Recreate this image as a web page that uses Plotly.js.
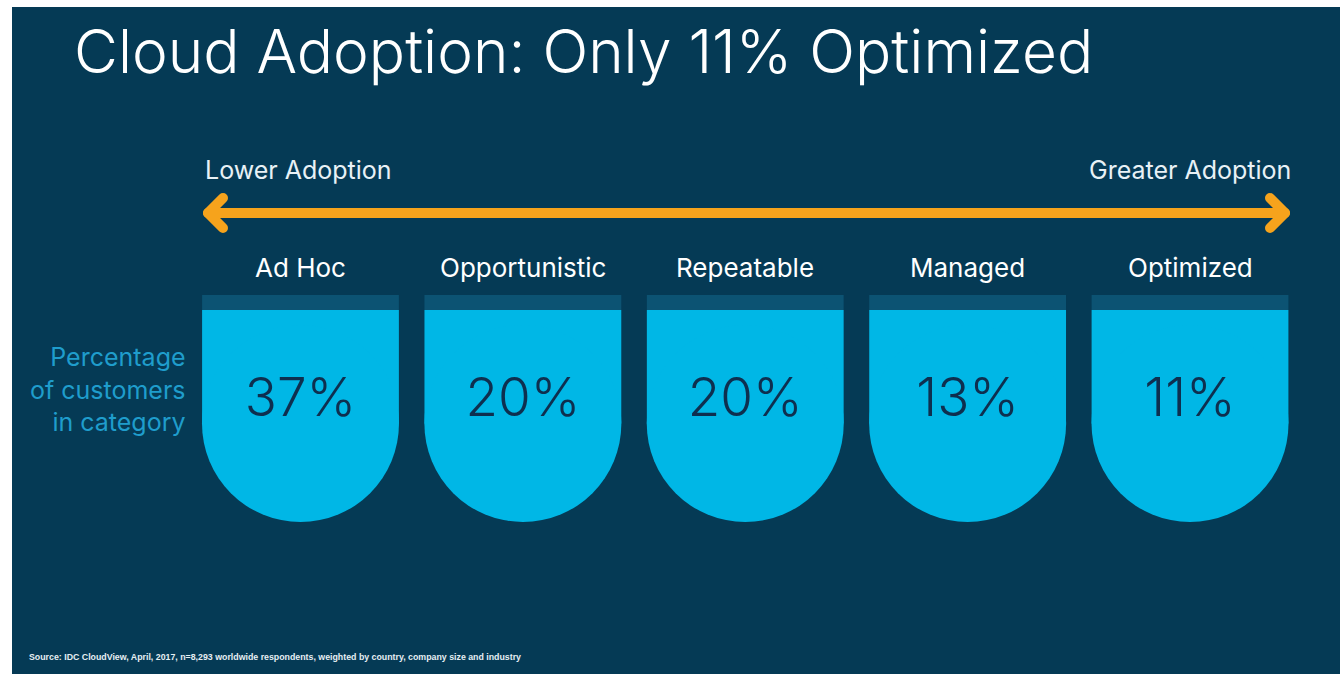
<!DOCTYPE html>
<html>
<head>
<meta charset="utf-8">
<script src="https://cdn.plot.ly/plotly-3.0.1.min.js"></script>
<style>
  html, body { margin: 0; padding: 0; background: #ffffff; }
  #chart { width: 1340px; height: 674px; }
  .shapelayer path { stroke-linecap: round; stroke-linejoin: round; }
  text { font-variant-ligatures: none; }
</style>
</head>
<body>
<div id="chart"></div>
<script>
// ---- data ----
const categories = ["Ad Hoc", "Opportunistic", "Repeatable", "Managed", "Optimized"];
const percentages = [37, 20, 20, 13, 11];
const titleText = "Cloud Adoption: Only 11% Optimized";
const lowLabel = "Lower Adoption";
const highLabel = "Greater Adoption";
const rowLabel = "Percentage<br>of customers<br>in category";
const sourceText = "Source: IDC CloudView, April, 2017, n=8,293 worldwide respondents, weighted by country, company size and industry";

// ---- styling ----
const W = 1340, H = 674;
const px = v => v / W;          // pixel x -> paper
const py = v => 1 - v / H;      // pixel y -> paper
const BG = "#053a55";
const STRIP = "#0c5373";
const CYAN = "#00b7e6";
const ORANGE = "#f6a31c";
const FONT = "Inter, 'Liberation Sans', Arial, sans-serif";

// badge geometry (y axis: 0 = badge bottom, 1 = badge top)
const stripTop = 1, stripBottom = 0.934, circleCenter = 0.434, textY = 0.525;
const badgeWidth = 0.885;
const circleDiameter = 197;

const traces = [
  {
    type: "bar", x: categories, y: categories.map(() => stripTop - stripBottom),
    base: categories.map(() => stripBottom), width: badgeWidth,
    marker: { color: STRIP, line: { width: 0 } }, hoverinfo: "skip", showlegend: false
  },
  {
    type: "bar", x: categories, y: categories.map(() => stripBottom - circleCenter),
    base: categories.map(() => circleCenter), width: badgeWidth,
    marker: { color: CYAN, line: { width: 0 } }, hoverinfo: "skip", showlegend: false
  },
  {
    type: "scatter", mode: "markers", x: categories, y: categories.map(() => circleCenter),
    marker: { size: circleDiameter, color: CYAN, line: { width: 0 }, symbol: "circle" },
    cliponaxis: false, hoverinfo: "skip", showlegend: false
  },
  {
    type: "scatter", mode: "text", x: categories, y: categories.map(() => textY),
    text: percentages.map(v => v + "%"), textposition: "middle center",
    textfont: { family: FONT, size: 53, color: "#0e2f4f", weight: 300 },
    cliponaxis: false, hoverinfo: "skip", showlegend: false
  }
];

const annotations = [
  { text: lowLabel, xref: "paper", yref: "paper", x: px(203), y: py(170), xanchor: "left", yanchor: "middle",
    showarrow: false, font: { family: FONT, size: 25, color: "#e8f1f6" } },
  { text: highLabel, xref: "paper", yref: "paper", x: px(1293), y: py(170), xanchor: "right", yanchor: "middle",
    showarrow: false, font: { family: FONT, size: 25, color: "#e8f1f6" } },
  { text: rowLabel, xref: "paper", yref: "paper", x: px(188), y: py(389), xanchor: "right", yanchor: "middle",
    align: "right", showarrow: false, font: { family: FONT, size: 25, color: "#1f9dcc" } },
  { text: sourceText, xref: "paper", yref: "paper", x: px(27), y: py(657), xanchor: "left", yanchor: "middle",
    showarrow: false, font: { family: "'Liberation Sans', Arial, sans-serif", size: 8.8, color: "#e6eef3", weight: 700 } }
].concat(categories.map(c => ({
  text: c, xref: "x", yref: "paper", x: c, y: py(267), xanchor: "center", yanchor: "middle",
  showarrow: false, font: { family: FONT, size: 26, color: "#ffffff" }
})));

const shapes = [
  { type: "rect", xref: "paper", yref: "paper", x0: px(12), x1: 1, y0: 0, y1: py(7),
    fillcolor: BG, line: { width: 0 }, layer: "below" },
  { type: "line", xref: "paper", yref: "paper", x0: px(208), x1: px(1285), y0: py(213), y1: py(213),
    line: { color: ORANGE, width: 10 } },
  { type: "path", xref: "paper", yref: "paper",
    path: `M ${px(223)} ${py(198)} L ${px(208)} ${py(213)} L ${px(223)} ${py(228)}`,
    line: { color: ORANGE, width: 10 } },
  { type: "path", xref: "paper", yref: "paper",
    path: `M ${px(1270)} ${py(198)} L ${px(1285)} ${py(213)} L ${px(1270)} ${py(228)}`,
    line: { color: ORANGE, width: 10 } }
];

const layout = {
  width: W, height: H,
  margin: { l: 0, r: 0, t: 0, b: 0 },
  paper_bgcolor: "#ffffff",
  plot_bgcolor: "rgba(0,0,0,0)",
  barmode: "overlay",
  showlegend: false,
  title: {
    text: titleText, x: px(74), xanchor: "left", xref: "paper",
    y: py(52), yanchor: "middle", yref: "paper",
    font: { family: FONT, size: 60.3, color: "#ffffff", weight: 300 }
  },
  xaxis: {
    type: "category", categoryorder: "array", categoryarray: categories,
    domain: [px(189.3), px(1301.2)], range: [-0.5, 4.5],
    showgrid: false, zeroline: false, showticklabels: false, showline: false, ticks: "", fixedrange: true
  },
  yaxis: {
    domain: [py(522), py(295)], range: [0, 1],
    showgrid: false, zeroline: false, showticklabels: false, showline: false, ticks: "", fixedrange: true
  },
  annotations: annotations,
  shapes: shapes
};

Plotly.newPlot("chart", traces, layout, { displayModeBar: false, staticPlot: true });
</script>
</body>
</html>
